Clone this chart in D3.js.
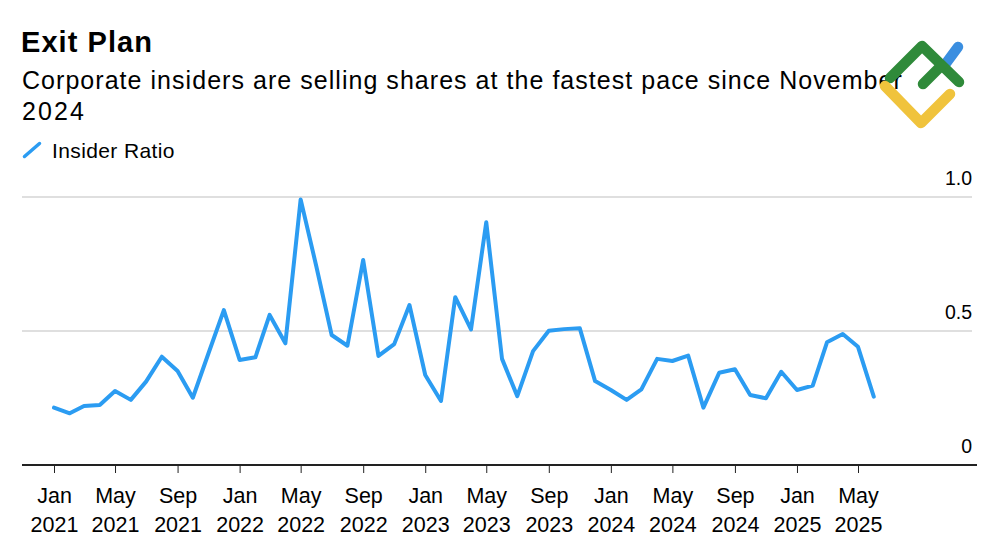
<!DOCTYPE html>
<html>
<head>
<meta charset="utf-8">
<script src="https://cdn.jsdelivr.net/npm/d3@7"></script>
<style>
  html, body { margin: 0; padding: 0; background: #fff; }
  svg { display: block; }
  text { font-family: "Liberation Sans", Arial, sans-serif; fill: #000; }
</style>
</head>
<body>
<svg id="chart" width="1000" height="545"></svg>
<script>
// ---- Data ----
const startMonth = "2021-01";
const insiderRatio = [
  0.214, 0.193, 0.220, 0.224, 0.276, 0.243, 0.311, 0.404, 0.351, 0.251, 0.418, 0.578,
  0.392, 0.402, 0.560, 0.454, 0.991, 0.740, 0.485, 0.445, 0.765, 0.407, 0.451, 0.597,
  0.336, 0.239, 0.626, 0.506, 0.906, 0.396, 0.257, 0.425, 0.501, 0.507, 0.510, 0.313,
  0.280, 0.243, 0.282, 0.396, 0.388, 0.408, 0.214, 0.344, 0.357, 0.261, 0.249, 0.348,
  0.280, 0.296, 0.458, 0.489, 0.441, 0.255
];
const yTicks = [0, 0.5, 1.0];
const yTickLabels = ["0", "0.5", "1.0"];
const title = "Exit Plan";
const subtitleLines = ["Corporate insiders are selling shares at the fastest pace since November", "2024"];
const seriesName = "Insider Ratio";

const parse = d3.utcParse("%Y-%m");
const t0 = parse(startMonth);
const data = insiderRatio.map((v, i) => ({ date: d3.utcMonth.offset(t0, i), value: v }));

const svg = d3.select("#chart");
const lineColor = "#2b9cf2";

// stretch text to a target width via letter-spacing
function fitWidth(sel, target) {
  const node = sel.node();
  const w = node.getComputedTextLength();
  const n = node.textContent.length;
  if (n > 1) sel.attr("letter-spacing", ((target - w) / (n - 1)).toFixed(2));
}

// ---- Scales ----
const x = d3.scaleUtc()
  .domain([t0, d3.utcMonth.offset(t0, 52)])
  .range([54, 858]);
const y = d3.scaleLinear().domain([0, 1]).range([465, 197]);

// ---- Header ----
const tTitle = svg.append("text").attr("x", 21).attr("y", 52)
  .attr("font-size", 29).attr("font-weight", "bold").text(title);
fitWidth(tTitle, 131);

subtitleLines.forEach((s, i) => {
  const t = svg.append("text").attr("x", 22).attr("y", 88.5 + i * 31)
    .attr("font-size", 25).text(s);
  if (i === 0) fitWidth(t, 880);
  else fitWidth(t, 62);
});

// Legend
svg.append("line").attr("x1", 24.5).attr("y1", 156.5).attr("x2", 39.5).attr("y2", 143.5)
  .attr("stroke", lineColor).attr("stroke-width", 3.5).attr("stroke-linecap", "round");
const tLeg = svg.append("text").attr("x", 52).attr("y", 158)
  .attr("font-size", 21).text(seriesName);
fitWidth(tLeg, 122.5);

// ---- Grid ----
svg.append("g").selectAll("line").data(yTicks.filter(d => d > 0)).join("line")
  .attr("x1", 22).attr("x2", 972)
  .attr("y1", d => y(d)).attr("y2", d => y(d))
  .attr("stroke", "#d4d4d4").attr("stroke-width", 1.5);

svg.append("g").selectAll("text").data(yTicks).join("text")
  .attr("x", 972).attr("y", d => y(d) - 12)
  .attr("text-anchor", "end")
  .attr("font-size", 19.5)
  .text((d, i) => yTickLabels[i]);

// ---- X axis ----
const xAxis = d3.axisBottom(x)
  .ticks(d3.utcMonth.every(4))
  .tickSize(8)
  .tickFormat(() => "");
const gx = svg.append("g").attr("transform", `translate(0,${y(0)})`).call(xAxis);
gx.select(".domain").remove();
gx.selectAll(".tick line").attr("stroke", "#222").attr("stroke-width", 1);
svg.append("line").attr("x1", 22).attr("x2", 977).attr("y1", y(0)).attr("y2", y(0))
  .attr("stroke", "#222").attr("stroke-width", 2);

const fmtM = d3.utcFormat("%b"), fmtY = d3.utcFormat("%Y");
gx.selectAll(".tick").each(function(d) {
  const g = d3.select(this);
  const t = g.append("text").attr("text-anchor", "middle")
    .style("font-family", "'Liberation Sans', Arial, sans-serif")
    .attr("font-size", 21.5).attr("fill", "#000");
  t.append("tspan").attr("x", 0).attr("y", 38).text(fmtM(d));
  t.append("tspan").attr("x", 0).attr("y", 66.5).text(fmtY(d));
});

// ---- Line ----
const line = d3.line().x(d => x(d.date)).y(d => y(d.value)).curve(d3.curveLinear);
svg.append("path").datum(data)
  .attr("fill", "none").attr("stroke", lineColor).attr("stroke-width", 4)
  .attr("stroke-linejoin", "round").attr("stroke-linecap", "round")
  .attr("d", line);

// ---- Logo (decorative) ----
const logo = svg.append("g").attr("fill", "none").attr("stroke-width", 10.5).attr("stroke-linecap", "round").attr("stroke-linejoin", "round");
logo.append("path").attr("d", "M944,66 L958,47").attr("stroke", "#3a8ee0");
logo.append("path").attr("d", "M890,78 L922,46 L959,82").attr("stroke", "#2f8a3a");
logo.append("path").attr("d", "M923,84 L941,66").attr("stroke", "#2f8a3a");
logo.append("path").attr("d", "M885,86 L921,123 L950,94").attr("stroke", "#f0c33c");
</script>
</body>
</html>
